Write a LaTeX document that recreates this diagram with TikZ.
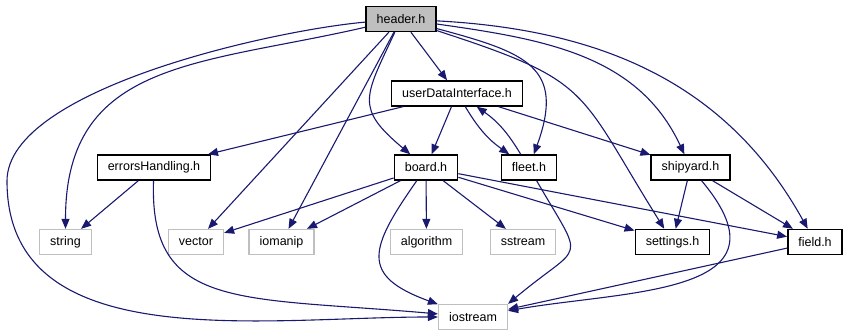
\documentclass[tikz,border=0pt]{standalone}
\usepackage{fontspec}
\setmainfont{Liberation Sans}
\usepackage{tikz}
\usetikzlibrary{arrows.meta}
\definecolor{edgeblue}{RGB}{25,25,112}
\definecolor{boxgray}{RGB}{191,191,191}
\tikzstyle{hfile}=[shape=rectangle,draw=black,line width=1.4pt,fill=white,minimum height=25pt,inner xsep=10.5pt,inner ysep=0pt,font=\fontsize{12.5}{15}\selectfont]
\tikzstyle{topfile}=[hfile,fill=boxgray]
\tikzstyle{sysfile}=[hfile,draw=boxgray,line width=1.3pt]
\tikzstyle{incedge}=[-{Triangle[length=10pt,width=8pt]},draw=edgeblue,line width=1.1pt]

\begin{document}
\begin{tikzpicture}[x=1pt,y=1pt]
\useasboundingbox (0,0) rectangle (848,336);

\node[topfile] (header) at (401,317){header.h};
\node[hfile] (udi) at (457,242.5){userDataInterface.h};

\node[hfile] (errors) at (154,168.5){errorsHandling.h};
\node[hfile] (board) at (426,168.5){board.h};
\node[hfile] (fleet) at (529,168.5){fleet.h};
\node[hfile] (shipyard) at (690.5,168.5){shipyard.h};

\node[sysfile] (string) at (65.5,94){string};
\node[sysfile] (vector) at (196,94){vector};
\node[sysfile] (iomanip) at (281.5,94){iomanip};
\node[sysfile] (algorithm) at (426.5,94){algorithm};
\node[sysfile] (sstream) at (523,94){sstream};
\node[hfile] (settings) at (672.5,94){settings.h};
\node[hfile] (field) at (815,94){field.h};

\node[sysfile] (iostream) at (473,19){iostream};

\coordinate (farleft) at (7,155);

\path
(header) edge [incedge] (udi)
(header) edge [incedge,out=245,in=140,looseness=1.5] (board)
(header) edge [incedge,out=-15,in=70,looseness=1.5] (fleet)
(header) edge [incedge,out=-8,in=115] (shipyard)
(header) edge [incedge,out=-18,in=122,looseness=1.4] (settings)
(header) edge [incedge,out=-3,in=119] (field)
(header) edge [incedge,out=193,in=90,looseness=1.2] (string)
(header) edge [incedge] (vector)
(header) edge [incedge] (iomanip)

(udi) edge [incedge] (errors)
(udi) edge [incedge] (board)
(udi) edge [incedge,bend right=12] (fleet)
(udi) edge [incedge] (shipyard)

(errors) edge [incedge] (string)
(errors) edge [incedge,out=268,in=175,out distance=130pt,in distance=200pt] (iostream)

(board) edge [incedge] (vector)
(board) edge [incedge] (iomanip)
(board) edge [incedge] (algorithm)
(board) edge [incedge] (sstream)
(board) edge [incedge] (settings)
(board) edge [incedge] (field)
(board) edge [incedge,out=235,in=160,looseness=1.7] (iostream)

(fleet) edge [incedge,bend right=12] (udi)
(fleet) edge [incedge,out=-60,in=40,looseness=2] (iostream.north east)

(shipyard) edge [incedge] (settings)
(shipyard) edge [incedge] (field)
(shipyard) edge [incedge,out=-50,in=10,out distance=150pt,in distance=120pt] (iostream)

(field) edge [incedge] (iostream);

\draw [incedge] (header) to [out=185,in=90,looseness=0.6] (farleft) to [out=270,in=180] (iostream);

\end{tikzpicture}
\end{document}
